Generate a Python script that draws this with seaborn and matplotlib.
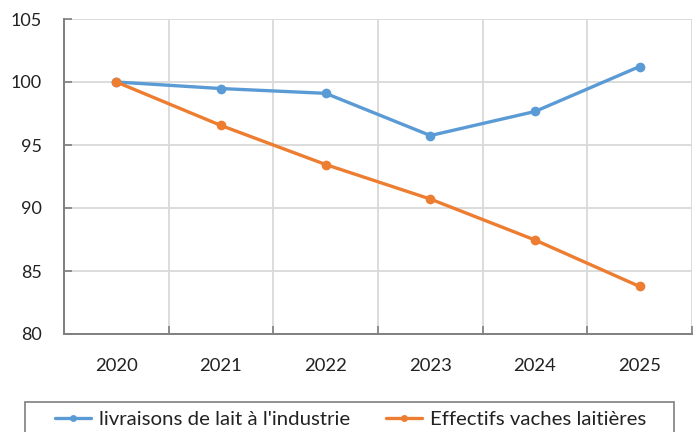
import matplotlib
matplotlib.use("Agg")
import matplotlib.pyplot as plt
from matplotlib.patches import Rectangle
from matplotlib.ticker import FixedLocator
from matplotlib.lines import Line2D
import seaborn as sns
import pandas as pd

years = ["2020", "2021", "2022", "2023", "2024", "2025"]
livraisons = [100.0, 99.48, 99.1, 95.75, 97.66, 101.23]
effectifs = [100.0, 96.55, 93.45, 90.71, 87.46, 83.77]
series_names = ["livraisons de lait à l'industrie", "Effectifs vaches laitières"]
colors = ["#5B9BD5", "#ED7D31"]
y_ticks = [80, 85, 90, 95, 100, 105]

df = pd.DataFrame({
    "year": years * 2,
    "value": livraisons + effectifs,
    "series": [series_names[0]] * len(years) + [series_names[1]] * len(years),
})

sns.set_style("white")
plt.rcParams["font.family"] = ["Lato", "DejaVu Sans"]

fig = plt.figure(figsize=(6.97, 4.32), dpi=100)
ax = fig.add_axes([64 / 697, 1 - 334 / 432, 628 / 697, 315 / 432])

sns.lineplot(data=df, x="year", y="value", hue="series", palette=colors,
             marker="o", markersize=7, markeredgewidth=0, linewidth=2.4,
             ax=ax, legend=True, zorder=3)

ax.set_xlim(-0.5, len(years) - 0.5)
ax.set_ylim(80, 105)
ax.set_yticks(y_ticks)
ax.set_xticks(range(len(years)))
ax.set_xticklabels(years)
ax.xaxis.set_minor_locator(FixedLocator([i + 0.5 for i in range(-1, len(years))]))
ax.set_xlabel("")
ax.set_ylabel("")

ax.grid(False)
ax.yaxis.grid(True, color="#d9d9d9", linewidth=1.3)
ax.xaxis.grid(True, which="minor", color="#d9d9d9", linewidth=1.3)
ax.set_axisbelow(True)

for s in ["top", "right"]:
    ax.spines[s].set_visible(False)
for s in ["left", "bottom"]:
    ax.spines[s].set_color("#7f7f7f")
    ax.spines[s].set_linewidth(1.4)

ax.tick_params(axis="y", direction="in", length=6, width=1.2, color="#7f7f7f",
               labelsize=13, pad=16, labelcolor="#222222", left=True)
ax.tick_params(axis="x", which="major", length=0, labelsize=13.3, pad=17,
               labelcolor="#222222")
ax.tick_params(axis="x", which="minor", direction="in", length=6, width=1.2,
               color="#7f7f7f", bottom=True)

ax.get_legend().remove()
handles = [Line2D([], [], color=c, linewidth=2.4, marker="o", markersize=5,
                  markeredgewidth=0) for c in colors]
fig.legend(handles, series_names, loc="center", bbox_to_anchor=(0.503, 1 - 419 / 432),
           ncol=2, frameon=False, fontsize=14.7, handlelength=1.75,
           columnspacing=1.8, handletextpad=0.38, labelcolor="#222222")
fig.patches.append(Rectangle((25 / 697, -0.05), 649 / 697, 0.05 + 30 / 432,
                             transform=fig.transFigure, fill=False,
                             edgecolor="#7f7f7f", linewidth=1.2))

fig.savefig("out.png", dpi=100)
